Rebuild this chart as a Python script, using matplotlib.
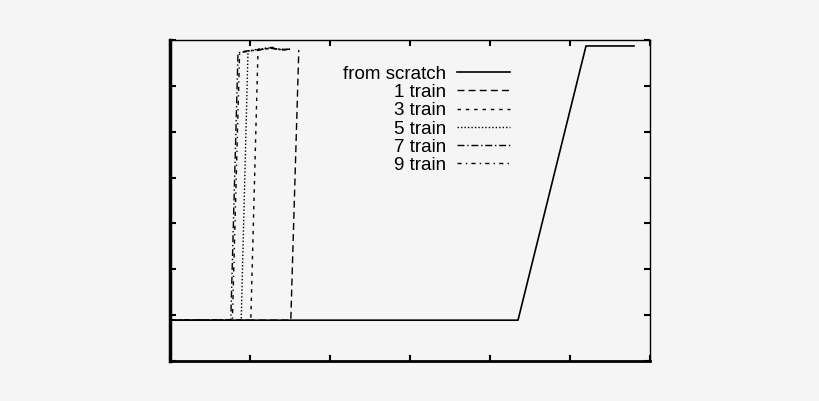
#!/usr/bin/env python3
import matplotlib as mpl
import matplotlib.pyplot as plt

mpl.rcParams["font.family"] = ["Liberation Sans", "DejaVu Sans"]

# curves (x in tick units, y in tick units)
scratch_x = [0.0, 4.35, 5.2, 5.8]
scratch_y = [0.89, 0.89, 6.87, 6.87]

train1_x = [0.0, 1.51, 1.61]
train1_y = [0.89, 0.89, 6.78]

train3_x = [0.0, 1.01, 1.10, 1.25, 1.40, 1.50]
train3_y = [0.89, 0.89, 6.78, 6.82, 6.80, 6.78]

train5_x = [0.0, 0.89, 0.975, 1.10, 1.25, 1.40, 1.50]
train5_y = [0.89, 0.89, 6.76, 6.80, 6.83, 6.78, 6.80]

train7_x = [0.0, 0.76, 0.85, 0.95, 1.10, 1.25, 1.40, 1.50]
train7_y = [0.89, 0.89, 6.72, 6.76, 6.78, 6.82, 6.79, 6.80]

train9_x = [0.0, 0.78, 0.87, 0.98, 1.12, 1.28, 1.42, 1.52]
train9_y = [0.89, 0.89, 6.73, 6.75, 6.80, 6.84, 6.78, 6.82]

labels = ["from scratch", "1 train", "3 train", "5 train", "7 train", "9 train"]

bg = "#f5f5f5"
fig = plt.figure(figsize=(8.2, 4.01), dpi=100, facecolor=bg)
ax = fig.add_axes([170 / 820, 40 / 401, 480 / 820, 321 / 401], facecolor=bg)

ax.plot(scratch_x, scratch_y, color="black", lw=1.2, label=labels[0])
ax.plot(train1_x, train1_y, color="black", lw=1.0, dashes=(5, 3), label=labels[1])
ax.plot(train3_x, train3_y, color="black", lw=1.0, dashes=(2.5, 3.5), label=labels[2])
ax.plot(train5_x, train5_y, color="black", lw=1.0, dashes=(1, 1.5), label=labels[3])
ax.plot(train7_x, train7_y, color="black", lw=1.0, dashes=(5, 2, 1, 2), label=labels[4])
ax.plot(train9_x, train9_y, color="black", lw=1.0, dashes=(3, 3, 1, 3), label=labels[5])

ax.set_xlim(0, 6)
ax.set_ylim(0, 7)
ax.set_xticks(range(0, 7))
ax.set_yticks(range(0, 8))
ax.tick_params(direction="in", length=4, width=1.5, top=True, right=True,
               labelleft=False, labelbottom=False)
ax.spines["left"].set_linewidth(2.5)
ax.spines["bottom"].set_linewidth(2.0)
ax.spines["top"].set_linewidth(1.0)
ax.spines["right"].set_linewidth(1.0)

# text left of the sample, rows right-aligned (gnuplot style key)
ax.legend(loc="upper right", bbox_to_anchor=(340 / 480, 0.92),
          frameon=False, markerfirst=False, fontsize=13.5,
          handlelength=2.8, handletextpad=0.6, labelspacing=0.06,
          borderpad=0, borderaxespad=0)

fig.savefig("out.png", dpi=100, facecolor=bg)
